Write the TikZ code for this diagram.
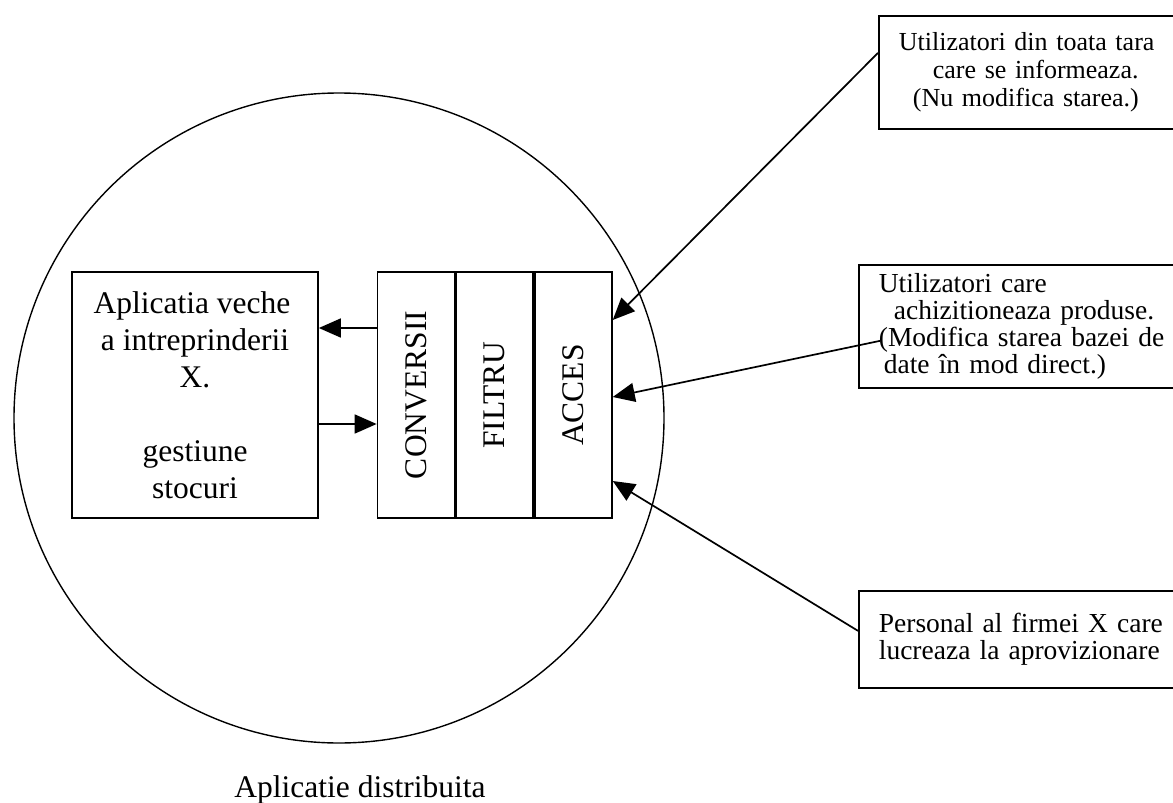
\documentclass[tikz,border=0pt]{standalone}
\usepackage{fontspec}
\setmainfont{Liberation Serif}
\usetikzlibrary{arrows.meta}
\usetikzlibrary{calc}
\usetikzlibrary{positioning}

\newcommand{\bigtxt}{\fontsize{31.5pt}{37pt}\selectfont}
\newcommand{\usrtxt}{\fontsize{27.5pt}{27pt}\selectfont}
\newcommand{\toptxt}{\fontsize{26pt}{28pt}\selectfont}

\begin{document}
\begin{tikzpicture}[>={Triangle[length=22pt,width=19pt]},x=1pt,y=-1pt,line width=1.7pt,node distance=0pt]
 \tikzstyle{layer}=[draw, minimum width=77pt, minimum height=246pt, inner sep=0pt, font=\bigtxt]
 \tikzstyle{user}=[draw, anchor=north west, inner xsep=20pt, inner ysep=0pt, text width=290pt, minimum width=330pt, align=left, font=\usrtxt]
 \useasboundingbox (0,0) rectangle (1173,803);
 \clip (0,0) rectangle (1173,803);

 % sistemul
 \node[circle, draw, minimum size=650pt, inner sep=0pt, line width=1.4pt] (sys) at (339,418) {};
 \node[anchor=base, font=\bigtxt] (lbl) at (360,797) {Aplicatie distribuita};

 \node[draw, minimum width=246pt, minimum height=246pt, inner sep=0pt, align=center, font=\bigtxt] (app) at (195,395)
   {Aplicatia veche\hspace*{6pt}\\a intreprinderii\hspace*{28pt}\\X.\\[37pt]gestiune\\stocuri};

 \node[layer] (conv) at (416,395) {\rotatebox{90}{CONVERSII}};
 \node[layer, right=of conv] (filtru) {\rotatebox{90}{FILTRU}};
 \node[layer, right=of filtru] (acces) {\rotatebox{90}{ACCES}};

 % utilizatori
 \node[user, font=\toptxt, minimum height=113pt] (usr1) at (878,15)
   {Utilizatori din toata tara\\\hspace*{34pt}care se informeaza.\\\hspace*{14pt}(Nu modifica starea.)};
 \node[user, minimum height=123pt] (usr2) at (858,264)
   {Utilizatori care\\\hspace*{15pt}achizitioneaza produse.\\(Modifica starea bazei de\\\hspace*{5pt}date în mod direct.)};
 \node[user, minimum height=97pt] (usr3) at (858,590)
   {Personal al firmei X care\\lucreaza la aprovizionare};

 \coordinate (a1) at ($(usr1.west)+(0,-19.5)$);
 \coordinate (a2) at ($(usr2.west)+(22,14.5)$);
 \coordinate (a3) at ($(usr3.west)+(0,-8.5)$);

 \draw[->] (a1) -- ($(acces.east)+(0,-75)$);
 \draw[->] (a2) -- ($(acces.east)+(0,2)$);
 \draw[->] (a3) -- ($(acces.east)+(0,86)$);

 \draw[->] ($(conv.west)+(0,-67)$) -- ($(app.east)+(0,-67)$);
 \draw[->] ($(app.east)+(0,29)$) -- ($(conv.west)+(0,29)$);
\end{tikzpicture}
\end{document}
